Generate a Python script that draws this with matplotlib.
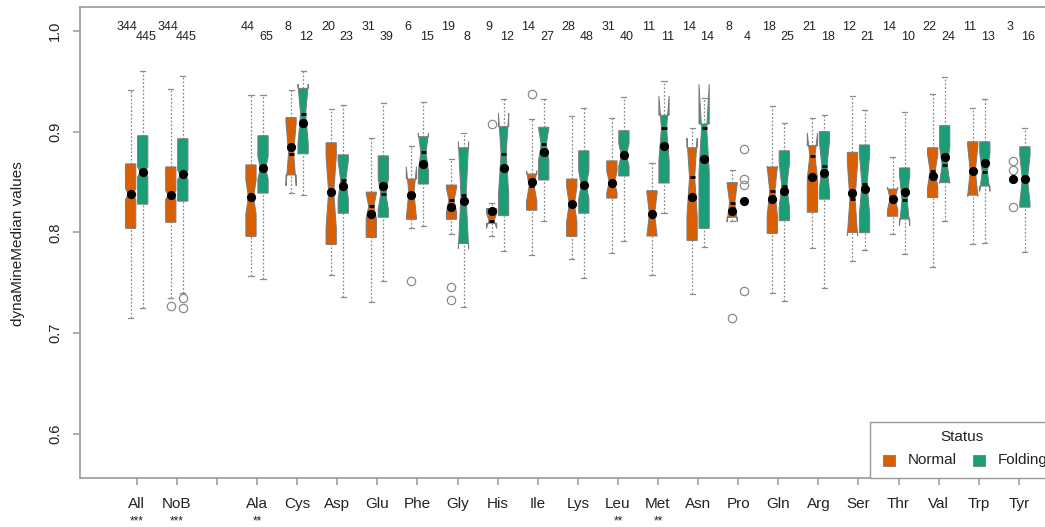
import matplotlib
matplotlib.use("Agg")
import matplotlib.pyplot as plt
import matplotlib.transforms as mtransforms
from matplotlib.patches import Polygon, Rectangle
import numpy as np

plt.rcParams['font.family'] = ['Liberation Sans', 'DejaVu Sans']

# ---------------- data ----------------
tick_labels = ['All', 'NoB', '', 'Ala', 'Cys', 'Asp', 'Glu', 'Phe', 'Gly', 'His', 'Ile',
               'Lys', 'Leu', 'Met', 'Asn', 'Pro', 'Gln', 'Arg', 'Ser', 'Thr', 'Val', 'Trp', 'Tyr']
stars = {'All': '***', 'NoB': '***', 'Ala': '**', 'Leu': '**', 'Met': '**'}

groups = [l for l in tick_labels if l]

norm_n = [344, 344, 44, 8, 20, 31, 6, 19, 9, 14, 28, 31, 11, 14, 8, 18, 21, 12, 14, 22, 11, 3]
fold_n = [445, 445, 65, 12, 23, 39, 15, 8, 12, 27, 48, 40, 11, 14, 4, 25, 18, 21, 10, 24, 13, 16]

# Normal: lower whisker, Q1, median, Q3, upper whisker (None = too few points for a box)
norm_wlo = [0.715, 0.735, 0.757, 0.8395, 0.758, 0.731, 0.804, 0.798, 0.7964, 0.7776, 0.7733, 0.780,
            0.7577, 0.7385, 0.811, 0.7395, 0.784, 0.7716, 0.798, 0.766, 0.788, None]
norm_q1 = [0.804, 0.810, 0.796, 0.857, 0.788, 0.795, 0.813, 0.813, 0.809, 0.822, 0.796, 0.834,
           0.7964, 0.792, 0.815, 0.799, 0.820, 0.800, 0.816, 0.8345, 0.837, None]
norm_med = [0.838, 0.837, 0.835, 0.878, 0.840, 0.826, 0.8395, 0.832, 0.8116, 0.846, 0.828, 0.850,
            0.818, 0.8547, 0.8295, 0.841, 0.876, 0.833, 0.8335, 0.861, 0.861, None]
norm_q3 = [0.868, 0.865, 0.867, 0.914, 0.889, 0.840, 0.853, 0.847, 0.8236, 0.858, 0.853, 0.871,
           0.8414, 0.884, 0.8494, 0.865, 0.886, 0.8795, 0.843, 0.884, 0.890, None]
norm_whi = [0.941, 0.942, 0.936, 0.941, 0.923, 0.894, 0.886, 0.873, 0.8295, 0.9126, 0.9156, 0.914,
            0.869, 0.9034, 0.862, 0.925, 0.914, 0.9355, 0.875, 0.937, 0.924, None]
norm_mean = [0.838, 0.8375, 0.835, 0.885, 0.840, 0.818, 0.837, 0.825, 0.8216, 0.8504, 0.8285, 0.8494,
             0.818, 0.8355, 0.8213, 0.8335, 0.855, 0.8395, 0.8335, 0.856, 0.861, 0.8527]

fold_wlo = [0.725, 0.7395, 0.754, 0.837, 0.736, 0.752, 0.806, 0.7256, 0.782, 0.811, 0.7544, 0.7915,
            0.819, 0.7858, None, 0.732, 0.7445, 0.7825, 0.779, 0.8116, 0.789, 0.7808]
fold_q1 = [0.828, 0.831, 0.839, 0.878, 0.819, 0.815, 0.848, 0.789, 0.8166, 0.852, 0.819, 0.856,
           0.849, 0.804, None, 0.8116, 0.833, 0.7997, 0.8133, 0.8494, 0.846, 0.825]
fold_med = [0.860, 0.857, 0.864, 0.9176, 0.852, 0.838, 0.8795, 0.837, 0.878, 0.8875, 0.847, 0.877,
            0.9034, 0.9034, None, 0.8464, 0.866, 0.8478, 0.832, 0.867, 0.860, 0.8527]
fold_q3 = [0.896, 0.893, 0.896, 0.943, 0.877, 0.876, 0.895, 0.884, 0.905, 0.9044, 0.881, 0.901,
           0.9163, 0.9076, None, 0.881, 0.900, 0.8868, 0.864, 0.906, 0.890, 0.885]
fold_whi = [0.960, 0.955, 0.936, 0.960, 0.926, 0.928, 0.929, 0.899, 0.932, 0.932, 0.924, 0.934,
            0.9506, 0.9338, None, 0.909, 0.9166, 0.922, 0.920, 0.954, 0.9325, 0.9034]
fold_mean = [0.860, 0.858, 0.8636, 0.909, 0.846, 0.846, 0.8676, 0.831, 0.864, 0.8795, 0.8474, 0.8766,
             0.8858, 0.8729, 0.831, 0.841, 0.859, 0.843, 0.8405, 0.8746, 0.869, 0.8527]

norm_outliers = {'NoB': [0.7269], 'Phe': [0.7514], 'Gly': [0.746, 0.733], 'His': [0.9077],
                 'Ile': [0.9374], 'Pro': [0.7147]}
fold_outliers = {'NoB': [0.7346, 0.7253]}
# groups with too few values: raw points shown
norm_points = {'Tyr': [0.8712, 0.862, 0.8255]}
fold_points = {'Pro': [0.8825, 0.8527, 0.8468, 0.7421]}

series = [
    dict(name='Normal', color='#D95F02', n=norm_n, wlo=norm_wlo, q1=norm_q1, med=norm_med,
         q3=norm_q3, whi=norm_whi, mean=norm_mean, out=norm_outliers, pts=norm_points, off=-0.15, toff=-0.23),
    dict(name='Folding', color='#1B9E77', n=fold_n, wlo=fold_wlo, q1=fold_q1, med=fold_med,
         q3=fold_q3, whi=fold_whi, mean=fold_mean, out=fold_outliers, pts=fold_points, off=0.15, toff=0.23),
]

# ---------------- figure ----------------
W, H = 1045, 527
fig = plt.figure(figsize=(W / 100, H / 100), dpi=100)
ax_left, ax_right, ax_top, ax_bot = 80, 1075.6, 7, 478
ax = fig.add_axes([ax_left / W, 1 - ax_bot / H, (ax_right - ax_left) / W, (ax_bot - ax_top) / H])
ax.set_xlim(-0.414, 24.414)
ax.set_ylim(0.5561, 1.0238)

positions = [i + 1 for i, l in enumerate(tick_labels) if l]
hw = 0.128       # half box width
nf = 0.5         # notch fraction
wcol = '#8c8c8c'
txtcol = '#222222'

ytr = mtransforms.blended_transform_factory(ax.transData, fig.transFigure)

for s in series:
    for gi, g in enumerate(groups):
        x = positions[gi] + s['off']
        n = s['n'][gi]
        if s['q1'][gi] is not None:
            wlo, q1, med, q3, whi = s['wlo'][gi], s['q1'][gi], s['med'][gi], s['q3'][gi], s['whi'][gi]
            # whiskers + staples
            ax.plot([x, x], [q3, whi], color=wcol, lw=0.9, ls=(0, (1.5, 1.5)), zorder=2)
            ax.plot([x, x], [wlo, q1], color=wcol, lw=0.9, ls=(0, (1.5, 1.5)), zorder=2)
            for v in (wlo, whi):
                ax.plot([x - hw * 0.5, x + hw * 0.5], [v, v], color=wcol, lw=0.9, zorder=2)
            # notch as in R
            half = 1.58 * (q3 - q1) / np.sqrt(n)
            clo, chi = med - half, med + half
            xx = x + hw * np.array([-1, 1, 1, nf, 1, 1, -1, -1, -nf, -1])
            yy = [q1, q1, clo, med, chi, q3, q3, chi, med, clo]
            ax.add_patch(Polygon(np.column_stack([xx, yy]), closed=True, facecolor=s['color'],
                                 edgecolor='#7a7a7a', lw=0.7, zorder=3))
            ax.plot([x - hw * nf, x + hw * nf], [med, med], color='black', lw=2.0, zorder=4,
                    solid_capstyle='butt')
        if g in s['out']:
            vals = s['out'][g]
            ax.plot([x] * len(vals), vals, ls='none', marker='o', ms=6, mfc='none', mec='#8a8a8a',
                    mew=0.9, zorder=4)
        if g in s['pts']:
            vals = s['pts'][g]
            ax.plot([x] * len(vals), vals, ls='none', marker='o', ms=6, mfc='none', mec='#8a8a8a',
                    mew=0.9, zorder=4)
        ax.plot([x], [s['mean'][gi]], ls='none', marker='o', ms=5.6, color='black', zorder=5)
        # counts at top
        ty = 1 - (27.3 if s['name'] == 'Normal' else 36.7) / H
        ax.text(positions[gi] + s['toff'], ty, str(n), transform=ytr, ha='center', va='center',
                fontsize=9, color=txtcol)

# axes styling
for sp in ax.spines.values():
    sp.set_color('#9a9a9a')
    sp.set_linewidth(1.2)
ax.set_xticks(range(1, len(tick_labels) + 1))
ax.set_xticklabels(tick_labels, fontsize=11, color=txtcol)
ax.set_yticks([0.6, 0.7, 0.8, 0.9, 1.0])
ax.set_yticklabels(['0.6', '0.7', '0.8', '0.9', '1.0'], fontsize=10.5, color=txtcol,
                   rotation=90, va='center')
ax.tick_params(axis='x', length=5, width=1.1, color='#9a9a9a', pad=9)
ax.tick_params(axis='y', length=5, width=1.1, color='#9a9a9a', pad=8)

for i, l in enumerate(tick_labels):
    if l in stars:
        ax.text(i + 1, 1 - 521.5 / H, stars[l], transform=ytr, ha='center', va='center',
                fontsize=8.5, color=txtcol)

fig.text(18 / W, 1 - 243.5 / H, 'dynaMineMedian values', rotation=90, ha='center', va='center',
         fontsize=11, color=txtcol)

# legend (manual, R style)
fig.add_artist(Rectangle((870 / W, 1 - 478 / H), 250 / W, (478 - 422.3) / H, transform=fig.transFigure,
                         facecolor='white', edgecolor='#9a9a9a', lw=1.0, zorder=10))
fig.text(961.7 / W, 1 - 436.7 / H, 'Status', ha='center', va='center', fontsize=11, color=txtcol, zorder=11)
for cx, tx, col, lab in [(889, 908, '#D95F02', 'Normal'), (978.7, 998, '#1B9E77', 'Folding')]:
    fig.add_artist(Rectangle(((cx - 6) / W, 1 - 465.5 / H), 12 / W, 11 / H, transform=fig.transFigure,
                             facecolor=col, edgecolor='#7a7a7a', lw=0.6, zorder=11))
    fig.text(tx / W, 1 - 460 / H, lab, ha='left', va='center', fontsize=11, color=txtcol, zorder=11)

fig.savefig('out.png', dpi=100)
